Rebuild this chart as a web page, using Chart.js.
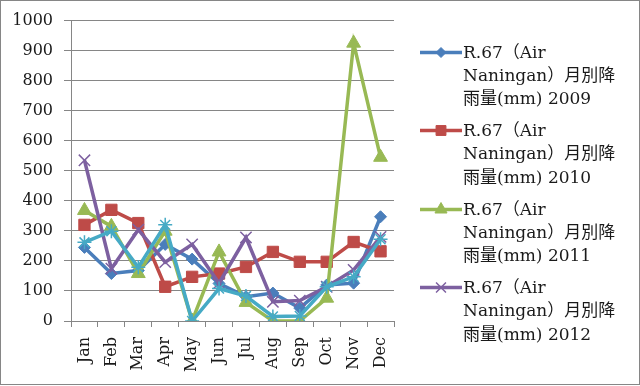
<!DOCTYPE html>
<html>
<head>
<meta charset="utf-8">
<script src="https://cdn.jsdelivr.net/npm/chart.js@4/dist/chart.umd.min.js"></script>
<style>
  html, body { margin: 0; padding: 0; background: #fff; }
  #wrap { position: relative; width: 640px; height: 386px; overflow: hidden; }
  #chart { position: absolute; left: 0; top: 0; }
  #frame { position: absolute; left: 0; top: 0; width: 640px; height: 385px; box-sizing: border-box;
           border: 1px solid #868686; pointer-events: none; }
  #legend { position: absolute; left: 419px; top: 0; font-family: "DejaVu Serif", "Noto Sans CJK JP", serif;
            font-size: 17px; color: #1a1a1a; }
  .item { position: absolute; left: 0; white-space: pre; line-height: 23.3px; }
  .item canvas { position: absolute; left: 0; top: 0; }
  .item span { position: absolute; left: 44px; top: 0; }
</style>
</head>
<body>
<div id="wrap">
  <canvas id="chart" width="640" height="386"></canvas>
  <div id="legend"></div>
  <div id="frame"></div>
</div>
<script>
  // ── Data ────────────────────────────────────────────────────────
  const months = ["Jan", "Feb", "Mar", "Apr", "May", "Jun", "Jul", "Aug", "Sep", "Oct", "Nov", "Dec"];

  const rain2009 = [245, 158, 168, 255, 206, 125, 81, 93, 43, 120, 126, 347];
  const rain2010 = [320, 370, 326, 114, 147, 158, 180, 230, 197, 197, 263, 232];
  const rain2011 = [368, 315, 158, 299, 0, 230, 62, 0, 0, 76, 925, 545];
  const rain2012 = [535, 174, 304, 196, 255, 126, 278, 64, 68, 114, 170, 280];
  const rain2013 = [262, 299, 179, 320, 0, 108, 83, 15, 17, 114, 147, 272];

  const seriesNames = [
    "R.67（Air\nNaningan）月別降\n雨量(mm) 2009",
    "R.67（Air\nNaningan）月別降\n雨量(mm) 2010",
    "R.67（Air\nNaningan）月別降\n雨量(mm) 2011",
    "R.67（Air\nNaningan）月別降\n雨量(mm) 2012",
    "R.67（Air\nNaningan）月別降\n雨量(mm) 2013",
  ];
  const yTicks = [0, 100, 200, 300, 400, 500, 600, 700, 800, 900, 1000];

  // ── Styles ──────────────────────────────────────────────────────
  const fontFamily = "'DejaVu Serif', 'Noto Sans CJK JP', serif";
  const axisGray   = "#868686";
  const textColor  = "#1a1a1a";

  const styles = [
    { color: "#4a7ebb", point: "rectRot",  radius: 6, bw: 1 },
    { color: "#be4b48", point: "rect",     radius: 8, bw: 1 },
    { color: "#98b954", point: "triangle", radius: 8, bw: 1 },
    { color: "#7d60a0", point: "crossRot", radius: 8, bw: 1.5 },
    { color: "#46aac5", point: "star",     radius: 7, bw: 1.5 },
  ];
  const seriesData = [rain2009, rain2010, rain2011, rain2012, rain2013];
  const legendCount = 4; // the fifth series has no legend entry in the original

  const datasets = seriesData.map((data, i) => ({
    label: seriesNames[i],
    data,
    borderColor: styles[i].color,
    backgroundColor: styles[i].color,
    borderWidth: 3.5,
    pointStyle: styles[i].point,
    pointRadius: styles[i].radius,
    pointBorderWidth: styles[i].bw,
    pointBackgroundColor: styles[i].color,
    pointBorderColor: styles[i].color,
    tension: 0,
    order: seriesData.length - i, // later series on top
  }));

  new Chart(document.getElementById("chart").getContext("2d"), {
    type: "line",
    data: { labels: months, datasets },
    options: {
      responsive: false,
      animation: false,
      layout: { padding: { left: 0, top: 20, right: 246, bottom: 0 } },
      plugins: { legend: { display: false }, tooltip: { enabled: false } },
      scales: {
        x: {
          type: "category",
          offset: true,
          grid: { offset: true, drawOnChartArea: false, color: axisGray, tickLength: 6 },
          border: { color: axisGray },
          ticks: {
            minRotation: 90, maxRotation: 90, padding: 10, color: textColor,
            font: { family: fontFamily, size: 16 },
          },
          afterFit: (s) => { s.height = 386 - 321; },
        },
        y: {
          min: 0, max: 1000,
          afterBuildTicks: (s) => { s.ticks = yTicks.map((v) => ({ value: v })); },
          grid: { color: axisGray, tickLength: 7 },
          border: { color: axisGray },
          ticks: {
            padding: 11, color: textColor, font: { family: fontFamily, size: 16 },
            callback: (v) => String(v),
          },
          afterFit: (s) => { s.width = 71; },
        },
      },
    },
  });

  // ── HTML legend ─────────────────────────────────────────────────
  const legendEl = document.getElementById("legend");
  const itemTops = [40.5, 119, 197.5, 276];
  for (let i = 0; i < legendCount; i++) {
    const item = document.createElement("div");
    item.className = "item";
    item.style.top = itemTops[i] + "px";

    const c = document.createElement("canvas");
    c.width = 44; c.height = 24;
    const ctx = c.getContext("2d");
    ctx.strokeStyle = styles[i].color;
    ctx.fillStyle = styles[i].color;
    ctx.lineWidth = 3.5;
    ctx.beginPath();
    ctx.moveTo(1, 11.5);
    ctx.lineTo(43, 11.5);
    ctx.stroke();
    ctx.lineWidth = styles[i].bw;
    Chart.helpers.drawPoint(ctx, {
      pointStyle: styles[i].point, radius: styles[i].radius - 1, rotation: 0, borderWidth: styles[i].bw,
    }, 22, 11.5);

    const span = document.createElement("span");
    span.textContent = seriesNames[i];
    item.appendChild(c);
    item.appendChild(span);
    legendEl.appendChild(item);
  }
</script>
</body>
</html>
